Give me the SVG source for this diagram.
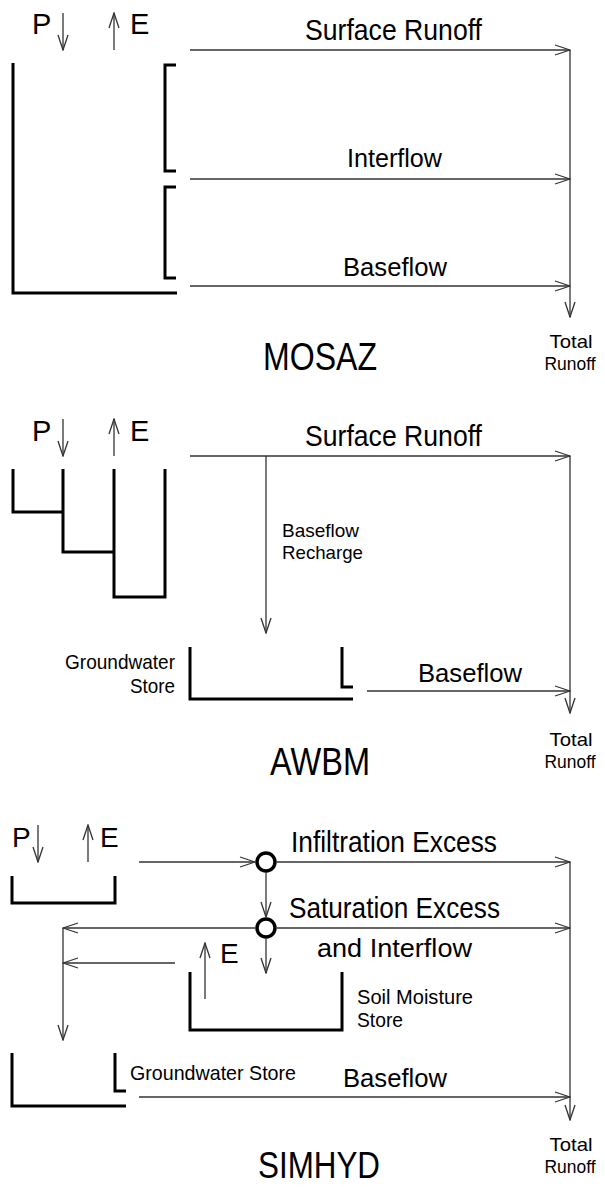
<svg xmlns="http://www.w3.org/2000/svg" width="605" height="1187" viewBox="0 0 605 1187">
<style>
text{font-family:"Liberation Sans",Arial,sans-serif;fill:#000}
.ln{fill:none;stroke:#333;stroke-width:1.3}
.ar{fill:none;stroke:#333;stroke-width:1.3;marker-end:url(#ah)}
.tk{fill:none;stroke:#000;stroke-width:3}
.ci{fill:#fff;stroke:#000;stroke-width:3.5}
.tr{font-size:19px;text-anchor:middle}
</style>
<defs>
<marker id="ah" viewBox="-16 -6 17 12" refX="0" refY="0" markerWidth="17" markerHeight="12" markerUnits="userSpaceOnUse" orient="auto">
<path d="M-15,-5 L0,0 L-15,5" fill="none" stroke="#333" stroke-width="1.3"/>
</marker>
</defs>

<g id="mosaz">
<g id="mosaz-store"><path class="tk" d="M13,63 V293 H177"/><path class="tk" d="M176,65 H165 V171 H176"/><path class="tk" d="M176,187 H165 V278 H176"/></g>
<text x="32" y="34" font-size="29">P</text>
<text x="130" y="34" font-size="29">E</text>
<text x="305" y="40" font-size="29" textLength="177" lengthAdjust="spacingAndGlyphs">Surface Runoff</text>
<text x="347" y="167" font-size="25" textLength="95" lengthAdjust="spacingAndGlyphs">Interflow</text>
<text x="343" y="276" font-size="25" textLength="104" lengthAdjust="spacingAndGlyphs">Baseflow</text>
<text x="263" y="370" font-size="38" textLength="114" lengthAdjust="spacingAndGlyphs">MOSAZ</text>
<text class="tr" x="571" y="348" textLength="43" lengthAdjust="spacingAndGlyphs">Total</text>
<text class="tr" x="570" y="370" textLength="51" lengthAdjust="spacingAndGlyphs">Runoff</text>
</g>

<g id="awbm">
<g id="awbm-stores"><path class="tk" d="M13,469 V512 H63 M63,469 V552 H114 M114,469 V597 H165 V469"/></g>
<g id="awbm-gw"><path class="tk" d="M190,647 V699 H353"/><path class="tk" d="M342,647 V687 H353"/></g>
<text x="32" y="441" font-size="29">P</text>
<text x="130" y="441" font-size="29">E</text>
<text x="305" y="446" font-size="29" textLength="177" lengthAdjust="spacingAndGlyphs">Surface Runoff</text>
<text x="282" y="537" font-size="19" textLength="77" lengthAdjust="spacingAndGlyphs">Baseflow</text>
<text x="282" y="559" font-size="19" textLength="81" lengthAdjust="spacingAndGlyphs">Recharge</text>
<text x="175" y="669" font-size="21" text-anchor="end" textLength="110" lengthAdjust="spacingAndGlyphs">Groundwater</text>
<text x="175" y="693" font-size="21" text-anchor="end" textLength="45" lengthAdjust="spacingAndGlyphs">Store</text>
<text x="418" y="682" font-size="25" textLength="104" lengthAdjust="spacingAndGlyphs">Baseflow</text>
<text x="270" y="775" font-size="38" textLength="100" lengthAdjust="spacingAndGlyphs">AWBM</text>
<text class="tr" x="571" y="746" textLength="43" lengthAdjust="spacingAndGlyphs">Total</text>
<text class="tr" x="570" y="768" textLength="51" lengthAdjust="spacingAndGlyphs">Runoff</text>
</g>

<g id="simhyd">
<g id="simhyd-top"><path class="tk" d="M12,876 V903 H115 V876"/></g>
<g id="simhyd-soil"><path class="tk" d="M190,972 V1030 H342 V972"/></g>
<g id="simhyd-gw"><path class="tk" d="M12,1053 V1106 H126"/><path class="tk" d="M115,1053 V1091 H126"/></g>
<text x="12" y="847" font-size="28">P</text>
<text x="100" y="847" font-size="28">E</text>
<text x="220" y="963" font-size="28">E</text>
<text x="291" y="852" font-size="29" textLength="206" lengthAdjust="spacingAndGlyphs">Infiltration  Excess</text>
<text x="289" y="918" font-size="29" textLength="211" lengthAdjust="spacingAndGlyphs">Saturation  Excess</text>
<text x="317" y="957" font-size="26" textLength="155" lengthAdjust="spacingAndGlyphs">and  Interflow</text>
<text x="357" y="1004" font-size="20" textLength="116" lengthAdjust="spacingAndGlyphs">Soil  Moisture</text>
<text x="357" y="1027" font-size="20" textLength="46" lengthAdjust="spacingAndGlyphs">Store</text>
<text x="130" y="1080" font-size="21" textLength="166" lengthAdjust="spacingAndGlyphs">Groundwater  Store</text>
<text x="343" y="1087" font-size="25" textLength="104" lengthAdjust="spacingAndGlyphs">Baseflow</text>
<text x="258" y="1178" font-size="36" textLength="122" lengthAdjust="spacingAndGlyphs">SIMHYD</text>
<text class="tr" x="571" y="1151" textLength="43" lengthAdjust="spacingAndGlyphs">Total</text>
<text class="tr" x="570" y="1173" textLength="51" lengthAdjust="spacingAndGlyphs">Runoff</text>
<circle id="junction1" class="ci" cx="266" cy="862" r="9"/>
<circle id="junction2" class="ci" cx="266" cy="928" r="9"/>
</g>

<g id="connectors">
<path class="ar" d="M63,13 V50"/>
<path class="ar" d="M114,50 V13"/>
<path class="ar" d="M190,50 H570"/>
<path class="ar" d="M190,179 H570"/>
<path class="ar" d="M190,286 H570"/>
<path class="ar" d="M570,50 V317"/>

<path class="ar" d="M63,419 V456"/>
<path class="ar" d="M114,456 V419"/>
<path class="ar" d="M190,456 H570"/>
<path class="ar" d="M266,456 V633"/>
<path class="ar" d="M367,691 H570"/>
<path class="ar" d="M570,456 V713"/>

<path class="ar" d="M38,825 V862"/>
<path class="ar" d="M88,862 V825"/>
<path class="ar" d="M139,862 H255"/>
<path class="ar" d="M277,862 H570"/>
<path class="ar" d="M266,872 V917"/>
<path class="ar" d="M277,928 H570"/>
<path class="ar" d="M255,928 H63"/>
<path class="ar" d="M63,928 V1040"/>
<path class="ar" d="M175,963 H63"/>
<path class="ar" d="M266,938 V973"/>
<path class="ar" d="M205,999 V943"/>
<path class="ar" d="M139,1097 H570"/>
<path class="ar" d="M570,862 V1120"/>
</g>
</svg>
